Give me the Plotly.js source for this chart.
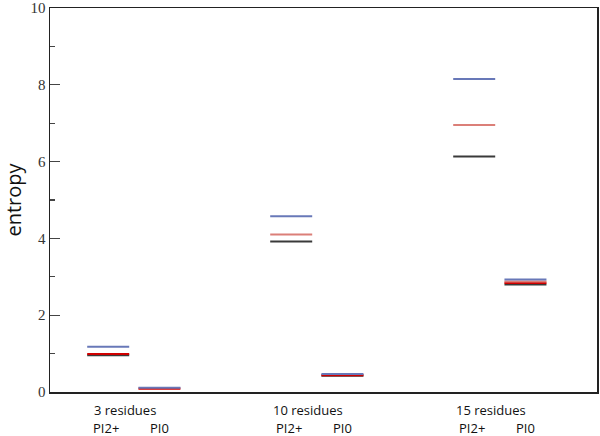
<!DOCTYPE html>
<html>
<head>
<meta charset="utf-8">
<script src="https://cdn.plot.ly/plotly-3.0.1.min.js"></script>
<style>html,body{margin:0;padding:0;background:#fff;}#chart{width:600px;height:436px;}</style>
</head>
<body>
<div id="chart"></div>
<script>
// Data
const groups = ['3 residues', '10 residues', '15 residues'];
const conditions = ['PI2+', 'PI0'];
// values ordered: [3res PI2+, 3res PI0, 10res PI2+, 10res PI0, 15res PI2+, 15res PI0]
const blueVals   = [1.18, 0.11, 4.58, 0.47, 8.15, 2.93];
const salmonVals = [null, null, 4.10, null, 6.95, 2.88];
const redVals    = [0.99, 0.09, null, 0.44, null, 2.84];
const blackVals  = [0.96, null, 3.92, 0.42, 6.13, 2.80];
const yTicks = [0, 2, 4, 6, 8, 10];

const condOffset = {'PI2+': -0.13, 'PI0': 0.15};
const xs = [];
groups.forEach((g, gi) => conditions.forEach(c => xs.push(gi + 1 + condOffset[c])));

function series(vals, color, width) {
  return {
    type: 'scatter', mode: 'markers', x: xs, y: vals, hoverinfo: 'y',
    marker: {symbol: 'line-ew', size: 30, line: {color: color, width: width}}
  };
}
const traces = [
  series(blackVals, '#3a3a3a', 2),
  series(redVals, '#d00000', 2.2),
  series(salmonVals, '#db7f78', 2),
  series(blueVals, '#6878b8', 2)
];

const labelFont = {family: 'Open Sans, sans-serif', size: 13, color: '#111'};
const annotations = [];
groups.forEach((g, gi) => {
  annotations.push({x: gi + 1 - 0.04, y: -0.048, xref: 'x', yref: 'paper',
    text: g, showarrow: false, yanchor: 'middle', font: labelFont});
  conditions.forEach(c => {
    annotations.push({x: gi + 1 + condOffset[c] + (c === 'PI2+' ? -0.01 : 0.0), y: -0.094, xref: 'x', yref: 'paper',
      text: c, showarrow: false, yanchor: 'middle', font: labelFont});
  });
});

const layout = {
  width: 600, height: 436,
  margin: {l: 50, r: 3, t: 8, b: 44},
  paper_bgcolor: '#fff', plot_bgcolor: '#fff',
  showlegend: false,
  xaxis: {range: [0.552, 3.541], showticklabels: false, ticks: '', showgrid: false, zeroline: false,
    showline: true, mirror: true, linecolor: '#222', linewidth: 1.5},
  yaxis: {range: [0, 10], tickvals: yTicks, ticktext: yTicks.map(String), ticks: 'inside', ticklen: 10, tickwidth: 1.2,
    tickcolor: '#444', showgrid: false, zeroline: false, showline: true, mirror: true, linecolor: '#222', linewidth: 1.5,
    tickfont: {family: 'Liberation Serif, serif', size: 15, color: '#333'},
    minor: {tickvals: [1, 3, 5, 7, 9], ticks: 'inside', ticklen: 5, tickcolor: '#444', showgrid: false},
    title: {text: 'entropy', font: {family: 'Open Sans, sans-serif', size: 20, color: '#111'}, standoff: 6}},
  annotations: annotations
};

Plotly.newPlot('chart', traces, layout, {displayModeBar: false, staticPlot: true});
</script>
</body>
</html>
